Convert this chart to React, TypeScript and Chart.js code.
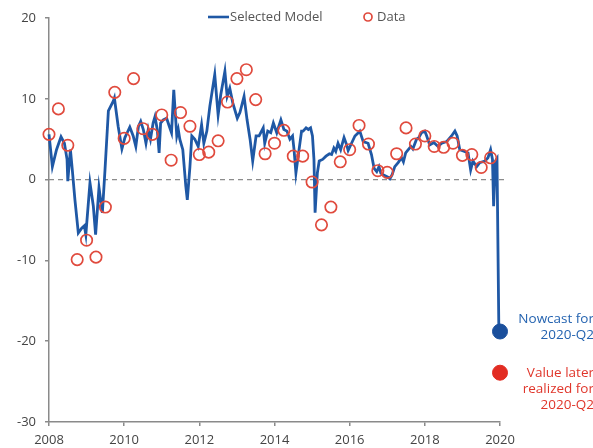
import React, { useEffect, useRef } from "react";
import { Chart, registerables } from "chart.js";

Chart.register(...registerables);

// Selected Model (blue line): decimal year, value
const modelYears = [
  2008.00, 2008.09, 2008.20, 2008.32, 2008.41, 2008.48, 2008.50, 2008.57, 2008.62, 2008.69,
  2008.78, 2008.87, 2008.94, 2008.98, 2009.09, 2009.18, 2009.24, 2009.33, 2009.42, 2009.49,
  2009.58, 2009.71, 2009.74, 2009.84, 2009.94, 2010.02, 2010.08, 2010.15, 2010.24, 2010.31,
  2010.38, 2010.44, 2010.51, 2010.58, 2010.64, 2010.70, 2010.77, 2010.82, 2010.88, 2010.93,
  2010.97, 2011.04, 2011.13, 2011.20, 2011.26, 2011.32, 2011.40, 2011.44, 2011.48, 2011.56,
  2011.64, 2011.68, 2011.75, 2011.80, 2011.88, 2011.97, 2012.06, 2012.12, 2012.20, 2012.28,
  2012.41, 2012.50, 2012.57, 2012.68, 2012.74, 2012.81, 2012.89, 2013.01, 2013.08, 2013.19,
  2013.27, 2013.35, 2013.42, 2013.51, 2013.59, 2013.70, 2013.74, 2013.82, 2013.90, 2013.97,
  2014.06, 2014.17, 2014.25, 2014.33, 2014.41, 2014.48, 2014.52, 2014.57, 2014.63, 2014.72,
  2014.76, 2014.84, 2014.90, 2014.96, 2015.01, 2015.05, 2015.08, 2015.14, 2015.19, 2015.28,
  2015.37, 2015.46, 2015.52, 2015.58, 2015.63, 2015.69, 2015.76, 2015.85, 2015.92, 2015.96,
  2016.05, 2016.14, 2016.23, 2016.27, 2016.36, 2016.49, 2016.58, 2016.65, 2016.72, 2016.78,
  2016.83, 2016.89, 2017.02, 2017.07, 2017.13, 2017.20, 2017.29, 2017.38, 2017.43, 2017.49,
  2017.56, 2017.63, 2017.68, 2017.78, 2017.84, 2017.91, 2018.00, 2018.05, 2018.13, 2018.24,
  2018.35, 2018.45, 2018.58, 2018.71, 2018.80, 2018.86, 2018.93, 2019.04, 2019.15, 2019.22,
  2019.28, 2019.38, 2019.46, 2019.60, 2019.68, 2019.75, 2019.80, 2019.83, 2019.88, 2019.92,
  2019.97,
];
const modelValues = [
  5.6, 1.6, 3.7, 5.3, 4.5, 2.5, -0.2, 3.7, 1.2, -2.5,
  -6.6, -6.0, -5.7, -6.8, -0.4, -3.3, -6.8, -1.0, -4.1, 1.2,
  8.5, 9.7, 10.1, 6.6, 3.8, 5.2, 5.8, 6.5, 5.4, 4.1,
  6.6, 7.2, 6.2, 4.5, 6.2, 5.0, 7.0, 7.8, 6.2, 3.3,
  7.0, 7.4, 7.6, 6.6, 5.8, 11.1, 5.4, 6.2, 5.0, 3.7,
  -0.8, -2.5, 1.6, 5.4, 5.0, 4.1, 6.8, 4.5, 6.0, 9.1,
  13.0, 8.0, 10.5, 13.4, 10.3, 11.3, 9.5, 7.6, 8.3, 10.3,
  7.4, 5.0, 2.3, 5.4, 5.4, 6.4, 4.5, 6.0, 5.8, 7.0,
  5.8, 7.4, 6.2, 6.0, 5.0, 5.4, 3.7, 0.8, 2.9, 6.0,
  6.0, 6.4, 6.2, 6.4, 5.4, 2.5, -4.1, 0.8, 2.3, 2.5,
  2.9, 3.2, 3.1, 3.9, 3.5, 4.5, 3.7, 5.2, 4.3, 3.6,
  4.5, 5.4, 5.8, 6.0, 4.7, 4.5, 3.1, 1.4, 1.0, 1.6,
  0.8, 0.6, 0.3, 0.1, 0.6, 1.6, 2.1, 2.7, 2.2, 3.3,
  3.7, 4.1, 3.8, 5.0, 5.2, 5.8, 6.0, 5.4, 4.3, 4.6,
  4.1, 4.5, 4.7, 5.4, 6.0, 5.4, 3.7, 3.5, 3.3, 1.2,
  2.3, 1.6, 2.1, 2.3, 2.7, 3.7, 2.5, -3.3, 2.3, 2.6,
  -18.8,
];

// Data (red hollow circles), quarterly
const dataYears = [
  2008.00, 2008.25, 2008.50, 2008.75, 2009.00, 2009.25, 2009.50, 2009.75,
  2010.00, 2010.25, 2010.50, 2010.75, 2011.00, 2011.25, 2011.50, 2011.75,
  2012.00, 2012.25, 2012.50, 2012.75, 2013.00, 2013.25, 2013.50, 2013.75,
  2014.00, 2014.25, 2014.50, 2014.75, 2015.00, 2015.25, 2015.50, 2015.75,
  2016.00, 2016.25, 2016.50, 2016.75, 2017.00, 2017.25, 2017.50, 2017.75,
  2018.00, 2018.25, 2018.50, 2018.75, 2019.00, 2019.25, 2019.50, 2019.75,
];
const dataValues = [
  5.6, 8.75, 4.25, -9.9, -7.5, -9.6, -3.4, 10.8,
  5.1, 12.5, 6.3, 5.6, 8.0, 2.4, 8.3, 6.6,
  3.1, 3.4, 4.8, 9.6, 12.5, 13.6, 9.9, 3.2,
  4.5, 6.1, 2.9, 2.9, -0.3, -5.6, -3.4, 2.2,
  3.7, 6.7, 4.4, 1.1, 0.9, 3.2, 6.4, 4.4,
  5.4, 4.1, 4.0, 4.5, 3.0, 3.1, 1.5, 2.7,
];

const nowcastYear = 2020.0;
const nowcastValue = -18.8;
const realizedYear = 2020.0;
const realizedValue = -23.9;

const zeroLineYears = [2008, 2020.13];
const xTickLabels = ["2008", "2010", "2012", "2014", "2016", "2018", "2020"];
const yTickLabels = ["-30", "-20", "-10", "0", "10", "20"];

const BLUE = "#1f58a5";
const RED = "#e04a3d";
const DOT_BLUE = "#1a4f9c";
const DOT_RED = "#e22c22";
const FONT = "'Open Sans', 'DejaVu Sans', sans-serif";

const overlayPlugin = {
  id: "overlay",
  afterDraw(chart: any) {
    const ctx = chart.ctx;
    ctx.save();
    // legend
    ctx.font = `13px ${FONT}`;
    ctx.textBaseline = "middle";
    ctx.fillStyle = "#555";
    ctx.strokeStyle = BLUE;
    ctx.lineWidth = 2.6;
    ctx.beginPath();
    ctx.moveTo(208, 17);
    ctx.lineTo(229, 17);
    ctx.stroke();
    ctx.textAlign = "left";
    ctx.fillText("Selected Model", 230, 17);
    ctx.strokeStyle = RED;
    ctx.lineWidth = 1.7;
    ctx.beginPath();
    ctx.arc(368, 17, 4, 0, Math.PI * 2);
    ctx.stroke();
    ctx.fillText("Data", 377, 17);
    // annotations
    ctx.font = `500 13.5px ${FONT}`;
    ctx.textAlign = "right";
    ctx.fillStyle = "#2463b0";
    ctx.fillText("Nowcast for", 594, 319);
    ctx.fillText("2020-Q2", 594, 335);
    ctx.fillStyle = "#e0362b";
    ctx.fillText("Value later", 594, 373);
    ctx.fillText("realized for", 594, 389);
    ctx.fillText("2020-Q2", 594, 405);
    ctx.restore();
  },
};

export default function App() {
  const ref = useRef<HTMLCanvasElement | null>(null);
  useEffect(() => {
    if (!ref.current) return;
    const chart = new Chart(ref.current, {
      type: "scatter",
      data: {
        datasets: [
          {
            label: "Data",
            data: dataYears.map((x, i) => ({ x, y: dataValues[i] })),
            showLine: false,
            pointRadius: 5.7,
            pointBorderWidth: 1.7,
            pointBorderColor: RED,
            pointBackgroundColor: "rgba(0,0,0,0)",
            order: 1,
            clip: false,
          },
          {
            label: "Selected Model",
            data: modelYears.map((x, i) => ({ x, y: modelValues[i] })),
            showLine: true,
            borderColor: BLUE,
            borderWidth: 2.8,
            pointRadius: 0,
            tension: 0,
            order: 2,
            clip: false,
          },
          {
            label: "zero",
            data: zeroLineYears.map((x) => ({ x, y: 0 })),
            showLine: true,
            borderColor: "#8c8c8c",
            borderWidth: 1.3,
            borderDash: [5, 4],
            pointRadius: 0,
            order: 3,
            clip: false,
          },
          {
            label: "Nowcast",
            data: [{ x: nowcastYear, y: nowcastValue }],
            pointRadius: 7.5,
            pointBackgroundColor: DOT_BLUE,
            pointBorderColor: DOT_BLUE,
            order: 0,
            clip: false,
          },
          {
            label: "Realized",
            data: [{ x: realizedYear, y: realizedValue }],
            pointRadius: 7.5,
            pointBackgroundColor: DOT_RED,
            pointBorderColor: DOT_RED,
            order: 0,
            clip: false,
          },
        ],
      },
      options: {
        animation: false,
        responsive: false,
        devicePixelRatio: 1,
        layout: { padding: { left: 0, top: 18, right: 93, bottom: 0 } },
        plugins: {
          legend: { display: false },
          tooltip: { enabled: false },
        },
        scales: {
          x: {
            type: "linear",
            min: 2008,
            max: 2020,
            afterFit: (s: any) => {
              s.height = 26;
            },
            afterBuildTicks: (s: any) => {
              s.ticks = xTickLabels.map((t) => ({ value: Number(t) }));
            },
            ticks: {
              callback: (v: any) => String(v),
              color: "#444",
              font: { size: 13, family: FONT },
              padding: 6,
              maxRotation: 0,
            },
            grid: {
              drawOnChartArea: false,
              drawTicks: true,
              tickLength: 4,
              color: "#8a8a8a",
              lineWidth: 1.5,
            },
            border: { display: true, color: "#8a8a8a", width: 1.5 },
          },
          y: {
            type: "linear",
            min: -30,
            max: 20,
            afterFit: (s: any) => {
              s.width = 49;
            },
            afterBuildTicks: (s: any) => {
              s.ticks = yTickLabels.map((t) => ({ value: Number(t) }));
            },
            ticks: {
              callback: (v: any) => String(v),
              color: "#444",
              font: { size: 13, family: FONT },
              padding: 9,
            },
            grid: {
              drawOnChartArea: false,
              drawTicks: true,
              tickLength: 4,
              color: "#8a8a8a",
              lineWidth: 1.5,
            },
            border: { display: true, color: "#8a8a8a", width: 1.5 },
          },
        },
      },
      plugins: [overlayPlugin],
    } as any);
    return () => chart.destroy();
  }, []);
  return (
    <div style={{ position: "fixed", left: 0, top: 0, width: 593, height: 448, background: "#fff" }}>
      <canvas ref={ref} width={593} height={448} style={{ width: 593, height: 448 }} />
    </div>
  );
}
